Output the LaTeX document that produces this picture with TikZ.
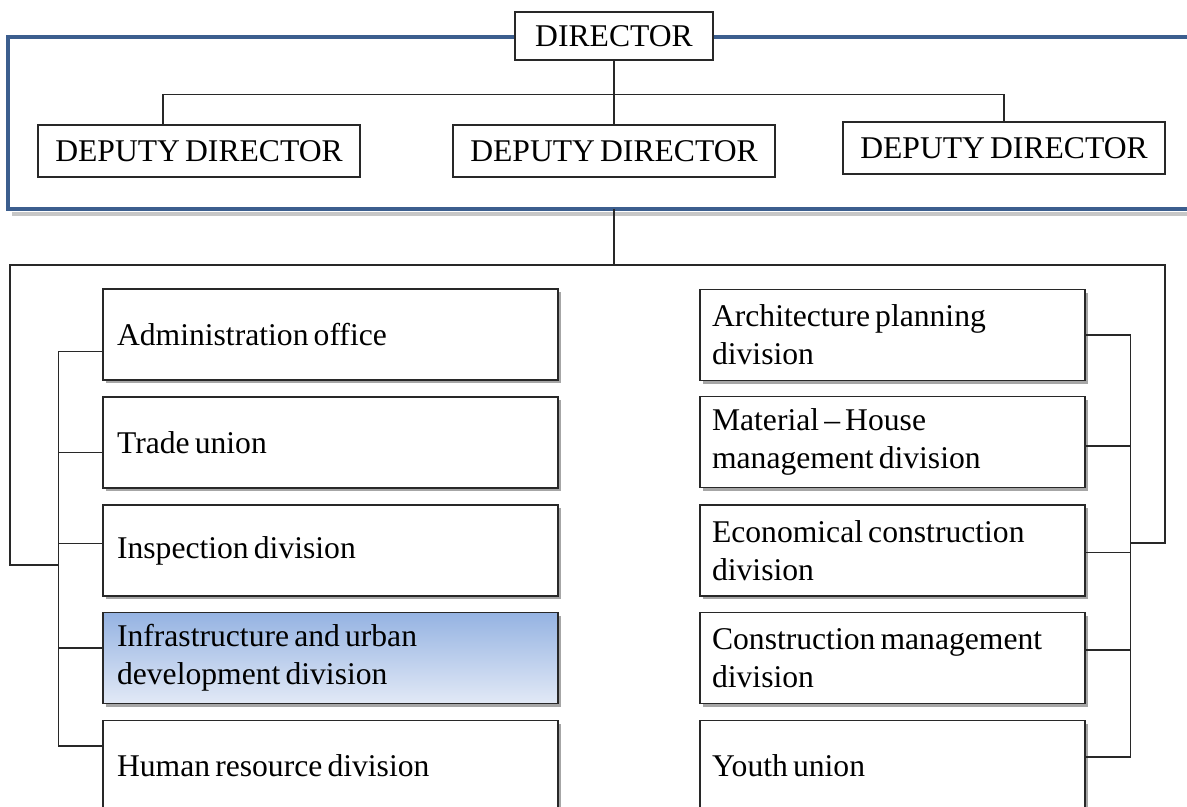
\documentclass[tikz,border=0pt]{standalone}
\usepackage{fontspec}
\setmainfont{Liberation Serif}[WordSpace=0.65]
\usetikzlibrary{calc}
\usetikzlibrary{shadows}

\definecolor{frameblue}{RGB}{60,94,142}
\definecolor{linegray}{RGB}{40,40,40}
\definecolor{topblue}{RGB}{149,179,226}
\definecolor{botblue}{RGB}{226,233,246}

\begin{document}
\begin{tikzpicture}[x=0.02cm, y=-0.02cm,
	font=\fontsize{18}{21.6}\selectfont,
	box/.style={draw=linegray, line width=0.75pt, fill=white, inner sep=0pt},
	deputy/.style={box, minimum width=6.44cm, minimum height=1.04cm},
	unit/.style={box, minimum height=1.82cm,
		drop shadow={shadow xshift=1.8pt, shadow yshift=-1.8pt, fill=black, opacity=0.35}},
	leftunit/.style={unit, text width=8.54cm, inner xsep=0.28cm, align=flush left},
	rightunit/.style={unit, text width=7.22cm, inner xsep=0.24cm, align=flush left},
	link/.style={draw=linegray, line width=0.75pt}]

	\useasboundingbox (0,0) rectangle (1187,807);
	\clip (0,0) rectangle (1187,807);

	% top frame
	\draw[black!22, line width=2.5pt] (12,214) -- (1200,214);
	\draw[frameblue, line width=2.3pt] (8,37) rectangle (1200,209);

	% director and deputies
	\node[box, minimum width=3.96cm, minimum height=0.96cm] (dir) at (614,36) {DIRECTOR};
	\node[deputy] (dep1) at (199,151) {DEPUTY DIRECTOR};
	\node[deputy] (dep2) at (614,151) {DEPUTY DIRECTOR};
	\node[deputy] (dep3) at (1004,148) {DEPUTY DIRECTOR};

	\draw[link] (dir.south) -- (dep2.north);
	\draw[link] ([xshift=-0.72cm]dep1.north) -- ++(0,-30) -| (dep3.north);

	% divisions, left
	\node[leftunit] (adm) at (330.5,334.5) {Administration office};
	\node[leftunit] (trd) at (330.5,442.5) {Trade union};
	\node[leftunit] (ins) at (330.5,550.5) {Inspection division};
	\node[leftunit, top color=topblue, bottom color=botblue] (inf) at (330.5,658) {Infrastructure and urban\\development division};
	\node[leftunit] (hum) at (330.5,766) {Human resource division};

	% divisions, right
	\node[rightunit] (arc) at (892.5,335) {Architecture planning\\division};
	\node[rightunit] (mat) at (892.5,442) {Material -- House\\management division};
	\node[rightunit] (eco) at (892.5,550.5) {Economical construction\\division};
	\node[rightunit] (con) at (892.5,658) {Construction management\\division};
	\node[rightunit] (you) at (892.5,766) {Youth union};

	\coordinate (hub) at (614,209);
	\coordinate (split) at (614,265);
	\draw[link] (hub) -- (split);
	\draw[link] (split) -| (10,565) -- (59,565);
	\draw[link] (split) -| (1165,543) -- (1130,543);

	\foreach \b/\dy in {adm/17, trd/10, ins/-7, inf/-10, hum/-20}
		\draw[link] ($(\b.west)+(0,\dy)$) -- +(-44,0);
	\draw[link] ($(adm.west)+(-44,17)$) -- ($(hum.west)+(-44,-20)$);

	\foreach \b/\dy in {arc/0, mat/4, eco/2, con/-8, you/-9}
		\draw[link] ($(\b.east)+(0,\dy)$) -- +(45,0);
	\draw[link] ($(arc.east)+(45,0)$) -- ($(you.east)+(45,-9)$);

\end{tikzpicture}
\end{document}
